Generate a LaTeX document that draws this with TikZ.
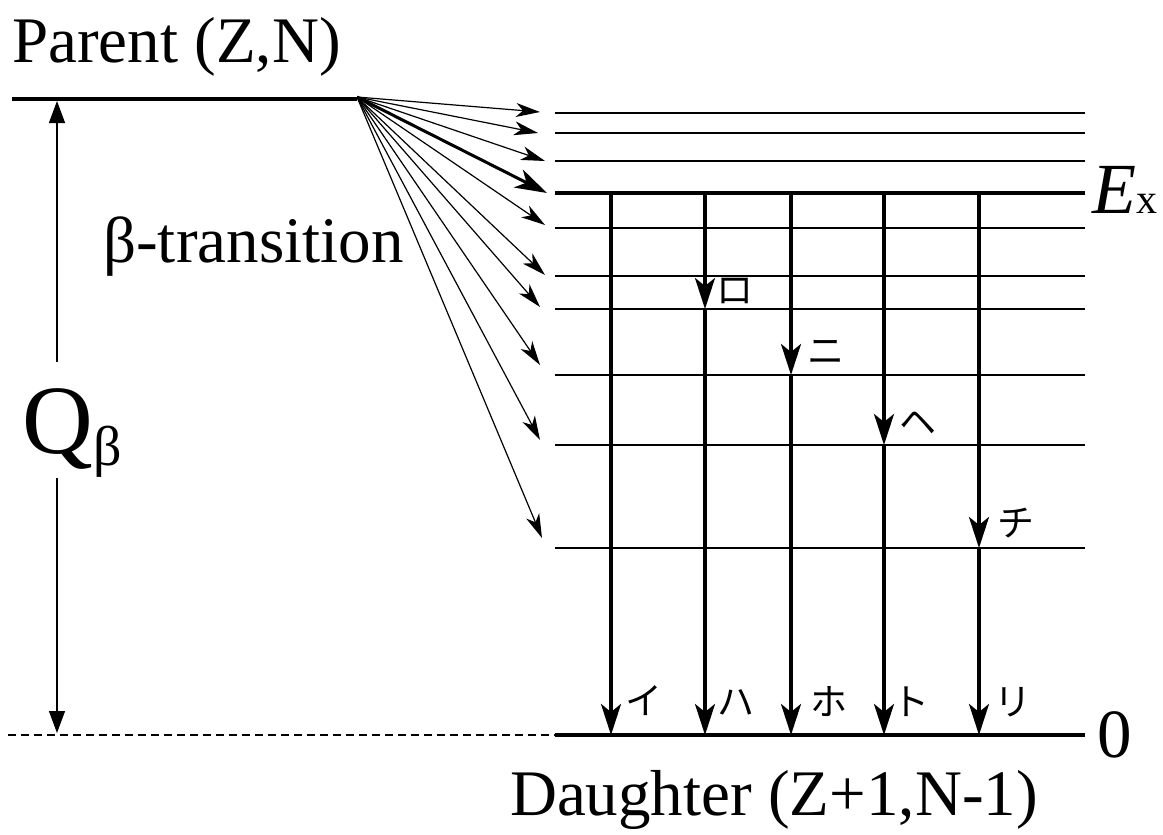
\documentclass[tikz,border=0pt]{standalone}
\usepackage{fontspec}
\setmainfont{Liberation Serif}
\newfontfamily\jpfont{Noto Sans CJK JP}
\usetikzlibrary{arrows.meta}
\begin{document}
\begin{tikzpicture}[x=1pt,y=-1pt,
  level/.style={line width=1.3pt},
  mainlevel/.style={line width=3.6pt},
  fan/.style={line width=1.2pt,-{Stealth[length=24pt,width=14pt,inset=7pt]}},
  fanthick/.style={line width=3pt,-{Stealth[length=32pt,width=20pt,inset=9pt]}},
  gamma/.style={line width=3.4pt,-{Stealth[length=31pt,width=20pt,inset=8pt]}},
  qarrow/.style={line width=1.2pt,{Stealth[length=22pt,width=16pt,inset=0pt]}-{Stealth[length=22pt,width=16pt,inset=0pt]}},
  lbl/.style={font=\fontsize{65}{65}\selectfont, inner sep=0pt},
  kana/.style={font=\jpfont\fontsize{37}{37}\selectfont, inner sep=0pt}
]
\useasboundingbox (0,0) rectangle (1163,835);

% parent level
\coordinate (PL) at (12,99);
\coordinate (PR) at (357,99);
\draw[mainlevel] (PL) -- (PR);
\coordinate (O) at (357,97);

% daughter levels
\foreach \n/\y in {a/113,b/133,c/161,e/228,f/276,g/309,h/375,i/445,j/548}{
  \coordinate (L\n) at (555,\y);
  \coordinate (R\n) at (1085,\y);
  \draw[level] (L\n) -- (R\n);
}
\coordinate (Ld) at (555,193); \coordinate (Rd) at (1085,193);
\draw[mainlevel] (Ld) -- (Rd);
\coordinate (G0) at (555,735); \coordinate (G1) at (1085,735);
\draw[mainlevel] (G0) -- (G1);
\coordinate (D0) at (8,735);
\draw[line width=1.2pt,dash pattern=on 8pt off 5pt] (D0) -- (G0);

% beta fan
\foreach \n/\x/\y in {1/540/112,2/538/133,3/545/161,5/545/225,6/545/275,7/540/307,8/540/365,9/540/440,10/542/538}{
  \coordinate (T\n) at (\x,\y);
  \draw[fan] (O) -- (T\n);
}
\coordinate (T4) at (547,193);
\draw[fanthick] (O) -- (T4);

% Q beta arrow
\coordinate (QT) at (57,101);
\coordinate (QB) at (57,733);
\draw[qarrow] (QB) -- (QT);
\fill[white] (40,362) rectangle (74,478);
\node[inner sep=0pt, anchor=base west] (Q) at (22,453) {\fontsize{98}{98}\selectfont Q};
\node[inner sep=0pt, anchor=base west] (Qb) at (Q.base east) [yshift=-12pt] {\fontsize{56}{56}\selectfont β};

% gamma transitions
\foreach \n/\x in {1/611,2/705,3/791,4/884,5/979}{
  \coordinate (X\n) at (\x,193);
  \coordinate (Z\n) at (\x,735);
}
\draw[gamma] (X1) -- (Z1);
\coordinate (M2) at (705,309); \draw[gamma] (X2) -- (M2); \draw[gamma] (M2) -- (Z2);
\coordinate (M3) at (791,375); \draw[gamma] (X3) -- (M3); \draw[gamma] (M3) -- (Z3);
\coordinate (M4) at (884,445); \draw[gamma] (X4) -- (M4); \draw[gamma] (M4) -- (Z4);
\coordinate (M5) at (979,548); \draw[gamma] (X5) -- (M5); \draw[gamma] (M5) -- (Z5);

% kana labels
\node[kana] (k1) at (644,701) {イ};
\node[kana] (k2) at (736,703) {ハ};
\node[kana] (k3) at (829,702) {ホ};
\node[kana] (k4) at (911,702) {ト};
\node[kana] (k5) at (1013,702) {リ};
\node[kana] (k6) at (735,291) {ロ};
\node[kana] (k7) at (826,352) {ニ};
\node[kana] (k8) at (918,423) {ヘ};
\node[kana] (k9) at (1016,523) {チ};

% texts
\node[lbl, anchor=base west] (parent) at (12,62) {Parent (Z,N)};
\node[lbl, anchor=base west] (beta) at (103,262) {β-transition};
\node[lbl, anchor=base west] (daughter) at (510,815) {Daughter (Z+1,N-1)};
\node[inner sep=0pt, anchor=base west] (Ex) at (1092,213) {\fontsize{72}{72}\selectfont\textit{E}\fontsize{42}{42}\selectfont x};
\node[inner sep=0pt, anchor=base west] (zero) at (1097,757) {\fontsize{69}{69}\selectfont 0};
\end{tikzpicture}
\end{document}
